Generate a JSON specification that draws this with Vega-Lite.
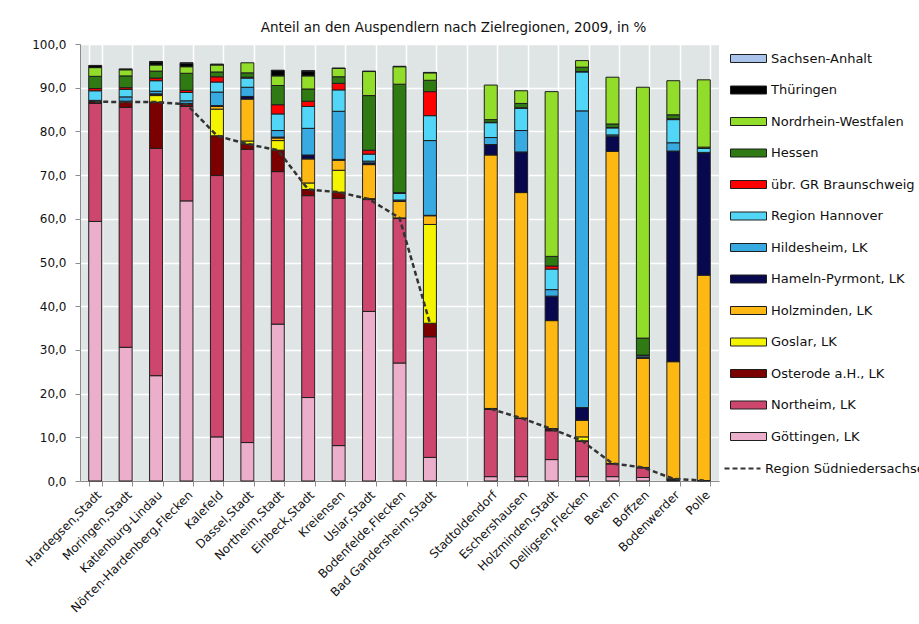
{
  "$schema": "https://vega.github.io/schema/vega-lite/v6.json",
  "background": "white",
  "padding": {"left": 23, "top": 20, "right": 0, "bottom": 5},
  "width": 639,
  "height": 437,
  "title": {
    "text": "Anteil an den Auspendlern nach Zielregionen, 2009, in %",
    "font": "DejaVu Sans",
    "fontSize": 13.5,
    "fontWeight": "normal",
    "color": "#111111",
    "anchor": "middle",
    "dx": 54,
    "offset": 4
  },
  "config": {
    "font": "DejaVu Sans",
    "view": {"fill": "#dfe4e4", "stroke": null},
    "axis": {
      "labelFont": "DejaVu Sans",
      "labelFontSize": 12,
      "labelColor": "#111111",
      "domainColor": "#8c8c8c",
      "tickColor": "#8c8c8c",
      "gridColor": "#ffffff",
      "gridWidth": 1.5,
      "gridOpacity": 1,
      "title": null
    }
  },
  "datasets": {
    "zielregionen": [
      {"ziel": "Göttingen, LK", "stapel": 1},
      {"ziel": "Northeim, LK", "stapel": 2},
      {"ziel": "Osterode a.H., LK", "stapel": 3},
      {"ziel": "Goslar, LK", "stapel": 4},
      {"ziel": "Holzminden, LK", "stapel": 5},
      {"ziel": "Hameln-Pyrmont, LK", "stapel": 6},
      {"ziel": "Hildesheim, LK", "stapel": 7},
      {"ziel": "Region Hannover", "stapel": 8},
      {"ziel": "übr. GR Braunschweig", "stapel": 9},
      {"ziel": "Hessen", "stapel": 10},
      {"ziel": "Nordrhein-Westfalen", "stapel": 11},
      {"ziel": "Thüringen", "stapel": 12},
      {"ziel": "Sachsen-Anhalt", "stapel": 13}
    ],
    "anteile": [
      {"ort": "Hardegsen,Stadt", "ziel": "Göttingen, LK", "anteil": 59.4},
      {"ort": "Hardegsen,Stadt", "ziel": "Northeim, LK", "anteil": 27.0},
      {"ort": "Hardegsen,Stadt", "ziel": "Osterode a.H., LK", "anteil": 0.4},
      {"ort": "Hardegsen,Stadt", "ziel": "Holzminden, LK", "anteil": 0.1},
      {"ort": "Hardegsen,Stadt", "ziel": "Hildesheim, LK", "anteil": 0.2},
      {"ort": "Hardegsen,Stadt", "ziel": "Region Hannover", "anteil": 2.2},
      {"ort": "Hardegsen,Stadt", "ziel": "übr. GR Braunschweig", "anteil": 0.5},
      {"ort": "Hardegsen,Stadt", "ziel": "Hessen", "anteil": 2.8},
      {"ort": "Hardegsen,Stadt", "ziel": "Nordrhein-Westfalen", "anteil": 2.0},
      {"ort": "Hardegsen,Stadt", "ziel": "Thüringen", "anteil": 0.5},

      {"ort": "Moringen,Stadt", "ziel": "Göttingen, LK", "anteil": 30.6},
      {"ort": "Moringen,Stadt", "ziel": "Northeim, LK", "anteil": 54.9},
      {"ort": "Moringen,Stadt", "ziel": "Osterode a.H., LK", "anteil": 1.2},
      {"ort": "Moringen,Stadt", "ziel": "Holzminden, LK", "anteil": 0.2},
      {"ort": "Moringen,Stadt", "ziel": "Hildesheim, LK", "anteil": 1.0},
      {"ort": "Moringen,Stadt", "ziel": "Region Hannover", "anteil": 1.7},
      {"ort": "Moringen,Stadt", "ziel": "übr. GR Braunschweig", "anteil": 0.4},
      {"ort": "Moringen,Stadt", "ziel": "Hessen", "anteil": 2.7},
      {"ort": "Moringen,Stadt", "ziel": "Nordrhein-Westfalen", "anteil": 1.4},
      {"ort": "Moringen,Stadt", "ziel": "Thüringen", "anteil": 0.2},

      {"ort": "Katlenburg-Lindau", "ziel": "Göttingen, LK", "anteil": 24.1},
      {"ort": "Katlenburg-Lindau", "ziel": "Northeim, LK", "anteil": 52.0},
      {"ort": "Katlenburg-Lindau", "ziel": "Osterode a.H., LK", "anteil": 10.6},
      {"ort": "Katlenburg-Lindau", "ziel": "Goslar, LK", "anteil": 1.5},
      {"ort": "Katlenburg-Lindau", "ziel": "Holzminden, LK", "anteil": 0.3},
      {"ort": "Katlenburg-Lindau", "ziel": "Hameln-Pyrmont, LK", "anteil": 0.1},
      {"ort": "Katlenburg-Lindau", "ziel": "Hildesheim, LK", "anteil": 0.6},
      {"ort": "Katlenburg-Lindau", "ziel": "Region Hannover", "anteil": 2.4},
      {"ort": "Katlenburg-Lindau", "ziel": "übr. GR Braunschweig", "anteil": 0.6},
      {"ort": "Katlenburg-Lindau", "ziel": "Hessen", "anteil": 1.6},
      {"ort": "Katlenburg-Lindau", "ziel": "Nordrhein-Westfalen", "anteil": 1.4},
      {"ort": "Katlenburg-Lindau", "ziel": "Thüringen", "anteil": 0.7},
      {"ort": "Katlenburg-Lindau", "ziel": "Sachsen-Anhalt", "anteil": 0.1},

      {"ort": "Nörten-Hardenberg,Flecken", "ziel": "Göttingen, LK", "anteil": 64.1},
      {"ort": "Nörten-Hardenberg,Flecken", "ziel": "Northeim, LK", "anteil": 21.6},
      {"ort": "Nörten-Hardenberg,Flecken", "ziel": "Osterode a.H., LK", "anteil": 0.5},
      {"ort": "Nörten-Hardenberg,Flecken", "ziel": "Holzminden, LK", "anteil": 0.2},
      {"ort": "Nörten-Hardenberg,Flecken", "ziel": "Hildesheim, LK", "anteil": 0.6},
      {"ort": "Nörten-Hardenberg,Flecken", "ziel": "Region Hannover", "anteil": 1.9},
      {"ort": "Nörten-Hardenberg,Flecken", "ziel": "übr. GR Braunschweig", "anteil": 0.5},
      {"ort": "Nörten-Hardenberg,Flecken", "ziel": "Hessen", "anteil": 3.9},
      {"ort": "Nörten-Hardenberg,Flecken", "ziel": "Nordrhein-Westfalen", "anteil": 1.5},
      {"ort": "Nörten-Hardenberg,Flecken", "ziel": "Thüringen", "anteil": 0.8},
      {"ort": "Nörten-Hardenberg,Flecken", "ziel": "Sachsen-Anhalt", "anteil": 0.1},

      {"ort": "Kalefeld", "ziel": "Göttingen, LK", "anteil": 10.1},
      {"ort": "Kalefeld", "ziel": "Northeim, LK", "anteil": 59.8},
      {"ort": "Kalefeld", "ziel": "Osterode a.H., LK", "anteil": 9.1},
      {"ort": "Kalefeld", "ziel": "Goslar, LK", "anteil": 6.1},
      {"ort": "Kalefeld", "ziel": "Holzminden, LK", "anteil": 0.6},
      {"ort": "Kalefeld", "ziel": "Hameln-Pyrmont, LK", "anteil": 0.2},
      {"ort": "Kalefeld", "ziel": "Hildesheim, LK", "anteil": 3.1},
      {"ort": "Kalefeld", "ziel": "Region Hannover", "anteil": 2.3},
      {"ort": "Kalefeld", "ziel": "übr. GR Braunschweig", "anteil": 1.2},
      {"ort": "Kalefeld", "ziel": "Hessen", "anteil": 1.1},
      {"ort": "Kalefeld", "ziel": "Nordrhein-Westfalen", "anteil": 1.6},
      {"ort": "Kalefeld", "ziel": "Thüringen", "anteil": 0.1},
      {"ort": "Kalefeld", "ziel": "Sachsen-Anhalt", "anteil": 0.1},

      {"ort": "Dassel,Stadt", "ziel": "Göttingen, LK", "anteil": 8.8},
      {"ort": "Dassel,Stadt", "ziel": "Northeim, LK", "anteil": 67.1},
      {"ort": "Dassel,Stadt", "ziel": "Osterode a.H., LK", "anteil": 1.2},
      {"ort": "Dassel,Stadt", "ziel": "Goslar, LK", "anteil": 0.7},
      {"ort": "Dassel,Stadt", "ziel": "Holzminden, LK", "anteil": 9.6},
      {"ort": "Dassel,Stadt", "ziel": "Hameln-Pyrmont, LK", "anteil": 0.6},
      {"ort": "Dassel,Stadt", "ziel": "Hildesheim, LK", "anteil": 2.1},
      {"ort": "Dassel,Stadt", "ziel": "Region Hannover", "anteil": 2.1},
      {"ort": "Dassel,Stadt", "ziel": "übr. GR Braunschweig", "anteil": 0.2},
      {"ort": "Dassel,Stadt", "ziel": "Hessen", "anteil": 1.0},
      {"ort": "Dassel,Stadt", "ziel": "Nordrhein-Westfalen", "anteil": 2.3},

      {"ort": "Northeim,Stadt", "ziel": "Göttingen, LK", "anteil": 35.9},
      {"ort": "Northeim,Stadt", "ziel": "Northeim, LK", "anteil": 34.9},
      {"ort": "Northeim,Stadt", "ziel": "Osterode a.H., LK", "anteil": 4.9},
      {"ort": "Northeim,Stadt", "ziel": "Goslar, LK", "anteil": 2.2},
      {"ort": "Northeim,Stadt", "ziel": "Holzminden, LK", "anteil": 0.6},
      {"ort": "Northeim,Stadt", "ziel": "Hameln-Pyrmont, LK", "anteil": 0.2},
      {"ort": "Northeim,Stadt", "ziel": "Hildesheim, LK", "anteil": 1.5},
      {"ort": "Northeim,Stadt", "ziel": "Region Hannover", "anteil": 3.8},
      {"ort": "Northeim,Stadt", "ziel": "übr. GR Braunschweig", "anteil": 2.1},
      {"ort": "Northeim,Stadt", "ziel": "Hessen", "anteil": 4.4},
      {"ort": "Northeim,Stadt", "ziel": "Nordrhein-Westfalen", "anteil": 2.2},
      {"ort": "Northeim,Stadt", "ziel": "Thüringen", "anteil": 1.2},
      {"ort": "Northeim,Stadt", "ziel": "Sachsen-Anhalt", "anteil": 0.1},

      {"ort": "Einbeck,Stadt", "ziel": "Göttingen, LK", "anteil": 19.1},
      {"ort": "Einbeck,Stadt", "ziel": "Northeim, LK", "anteil": 46.2},
      {"ort": "Einbeck,Stadt", "ziel": "Osterode a.H., LK", "anteil": 1.4},
      {"ort": "Einbeck,Stadt", "ziel": "Goslar, LK", "anteil": 1.5},
      {"ort": "Einbeck,Stadt", "ziel": "Holzminden, LK", "anteil": 5.5},
      {"ort": "Einbeck,Stadt", "ziel": "Hameln-Pyrmont, LK", "anteil": 0.9},
      {"ort": "Einbeck,Stadt", "ziel": "Hildesheim, LK", "anteil": 6.1},
      {"ort": "Einbeck,Stadt", "ziel": "Region Hannover", "anteil": 5.0},
      {"ort": "Einbeck,Stadt", "ziel": "übr. GR Braunschweig", "anteil": 1.2},
      {"ort": "Einbeck,Stadt", "ziel": "Hessen", "anteil": 2.8},
      {"ort": "Einbeck,Stadt", "ziel": "Nordrhein-Westfalen", "anteil": 3.0},
      {"ort": "Einbeck,Stadt", "ziel": "Thüringen", "anteil": 1.1},
      {"ort": "Einbeck,Stadt", "ziel": "Sachsen-Anhalt", "anteil": 0.1},

      {"ort": "Kreiensen", "ziel": "Göttingen, LK", "anteil": 8.1},
      {"ort": "Kreiensen", "ziel": "Northeim, LK", "anteil": 56.6},
      {"ort": "Kreiensen", "ziel": "Osterode a.H., LK", "anteil": 1.4},
      {"ort": "Kreiensen", "ziel": "Goslar, LK", "anteil": 5.0},
      {"ort": "Kreiensen", "ziel": "Holzminden, LK", "anteil": 2.3},
      {"ort": "Kreiensen", "ziel": "Hameln-Pyrmont, LK", "anteil": 0.2},
      {"ort": "Kreiensen", "ziel": "Hildesheim, LK", "anteil": 11.0},
      {"ort": "Kreiensen", "ziel": "Region Hannover", "anteil": 4.9},
      {"ort": "Kreiensen", "ziel": "übr. GR Braunschweig", "anteil": 1.5},
      {"ort": "Kreiensen", "ziel": "Hessen", "anteil": 1.5},
      {"ort": "Kreiensen", "ziel": "Nordrhein-Westfalen", "anteil": 1.9},
      {"ort": "Kreiensen", "ziel": "Thüringen", "anteil": 0.1},

      {"ort": "Uslar,Stadt", "ziel": "Göttingen, LK", "anteil": 38.8},
      {"ort": "Uslar,Stadt", "ziel": "Northeim, LK", "anteil": 25.6},
      {"ort": "Uslar,Stadt", "ziel": "Osterode a.H., LK", "anteil": 0.1},
      {"ort": "Uslar,Stadt", "ziel": "Goslar, LK", "anteil": 0.1},
      {"ort": "Uslar,Stadt", "ziel": "Holzminden, LK", "anteil": 7.8},
      {"ort": "Uslar,Stadt", "ziel": "Hameln-Pyrmont, LK", "anteil": 0.4},
      {"ort": "Uslar,Stadt", "ziel": "Hildesheim, LK", "anteil": 0.4},
      {"ort": "Uslar,Stadt", "ziel": "Region Hannover", "anteil": 1.6},
      {"ort": "Uslar,Stadt", "ziel": "übr. GR Braunschweig", "anteil": 0.9},
      {"ort": "Uslar,Stadt", "ziel": "Hessen", "anteil": 12.5},
      {"ort": "Uslar,Stadt", "ziel": "Nordrhein-Westfalen", "anteil": 5.5},
      {"ort": "Uslar,Stadt", "ziel": "Thüringen", "anteil": 0.1},

      {"ort": "Bodenfelde,Flecken", "ziel": "Göttingen, LK", "anteil": 27.0},
      {"ort": "Bodenfelde,Flecken", "ziel": "Northeim, LK", "anteil": 33.1},
      {"ort": "Bodenfelde,Flecken", "ziel": "Osterode a.H., LK", "anteil": 0.1},
      {"ort": "Bodenfelde,Flecken", "ziel": "Holzminden, LK", "anteil": 3.8},
      {"ort": "Bodenfelde,Flecken", "ziel": "Hameln-Pyrmont, LK", "anteil": 0.1},
      {"ort": "Bodenfelde,Flecken", "ziel": "Hildesheim, LK", "anteil": 0.2},
      {"ort": "Bodenfelde,Flecken", "ziel": "Region Hannover", "anteil": 1.5},
      {"ort": "Bodenfelde,Flecken", "ziel": "übr. GR Braunschweig", "anteil": 0.2},
      {"ort": "Bodenfelde,Flecken", "ziel": "Hessen", "anteil": 24.8},
      {"ort": "Bodenfelde,Flecken", "ziel": "Nordrhein-Westfalen", "anteil": 4.0},
      {"ort": "Bodenfelde,Flecken", "ziel": "Thüringen", "anteil": 0.1},

      {"ort": "Bad Gandersheim,Stadt", "ziel": "Göttingen, LK", "anteil": 5.4},
      {"ort": "Bad Gandersheim,Stadt", "ziel": "Northeim, LK", "anteil": 27.6},
      {"ort": "Bad Gandersheim,Stadt", "ziel": "Osterode a.H., LK", "anteil": 3.1},
      {"ort": "Bad Gandersheim,Stadt", "ziel": "Goslar, LK", "anteil": 22.6},
      {"ort": "Bad Gandersheim,Stadt", "ziel": "Holzminden, LK", "anteil": 2.0},
      {"ort": "Bad Gandersheim,Stadt", "ziel": "Hameln-Pyrmont, LK", "anteil": 0.1},
      {"ort": "Bad Gandersheim,Stadt", "ziel": "Hildesheim, LK", "anteil": 17.1},
      {"ort": "Bad Gandersheim,Stadt", "ziel": "Region Hannover", "anteil": 5.7},
      {"ort": "Bad Gandersheim,Stadt", "ziel": "übr. GR Braunschweig", "anteil": 5.5},
      {"ort": "Bad Gandersheim,Stadt", "ziel": "Hessen", "anteil": 2.6},
      {"ort": "Bad Gandersheim,Stadt", "ziel": "Nordrhein-Westfalen", "anteil": 1.7},
      {"ort": "Bad Gandersheim,Stadt", "ziel": "Thüringen", "anteil": 0.1},

      {"ort": "Stadtoldendorf", "ziel": "Göttingen, LK", "anteil": 1.0},
      {"ort": "Stadtoldendorf", "ziel": "Northeim, LK", "anteil": 15.4},
      {"ort": "Stadtoldendorf", "ziel": "Osterode a.H., LK", "anteil": 0.1},
      {"ort": "Stadtoldendorf", "ziel": "Goslar, LK", "anteil": 0.1},
      {"ort": "Stadtoldendorf", "ziel": "Holzminden, LK", "anteil": 58.0},
      {"ort": "Stadtoldendorf", "ziel": "Hameln-Pyrmont, LK", "anteil": 2.4},
      {"ort": "Stadtoldendorf", "ziel": "Hildesheim, LK", "anteil": 1.6},
      {"ort": "Stadtoldendorf", "ziel": "Region Hannover", "anteil": 3.4},
      {"ort": "Stadtoldendorf", "ziel": "übr. GR Braunschweig", "anteil": 0.1},
      {"ort": "Stadtoldendorf", "ziel": "Hessen", "anteil": 0.6},
      {"ort": "Stadtoldendorf", "ziel": "Nordrhein-Westfalen", "anteil": 7.9},

      {"ort": "Eschershausen", "ziel": "Göttingen, LK", "anteil": 1.0},
      {"ort": "Eschershausen", "ziel": "Northeim, LK", "anteil": 13.3},
      {"ort": "Eschershausen", "ziel": "Osterode a.H., LK", "anteil": 0.1},
      {"ort": "Eschershausen", "ziel": "Holzminden, LK", "anteil": 51.6},
      {"ort": "Eschershausen", "ziel": "Hameln-Pyrmont, LK", "anteil": 9.3},
      {"ort": "Eschershausen", "ziel": "Hildesheim, LK", "anteil": 4.9},
      {"ort": "Eschershausen", "ziel": "Region Hannover", "anteil": 5.1},
      {"ort": "Eschershausen", "ziel": "übr. GR Braunschweig", "anteil": 0.1},
      {"ort": "Eschershausen", "ziel": "Hessen", "anteil": 1.0},
      {"ort": "Eschershausen", "ziel": "Nordrhein-Westfalen", "anteil": 2.9},

      {"ort": "Holzminden,Stadt", "ziel": "Göttingen, LK", "anteil": 4.9},
      {"ort": "Holzminden,Stadt", "ziel": "Northeim, LK", "anteil": 6.6},
      {"ort": "Holzminden,Stadt", "ziel": "Osterode a.H., LK", "anteil": 0.4},
      {"ort": "Holzminden,Stadt", "ziel": "Goslar, LK", "anteil": 0.1},
      {"ort": "Holzminden,Stadt", "ziel": "Holzminden, LK", "anteil": 24.7},
      {"ort": "Holzminden,Stadt", "ziel": "Hameln-Pyrmont, LK", "anteil": 5.6},
      {"ort": "Holzminden,Stadt", "ziel": "Hildesheim, LK", "anteil": 1.5},
      {"ort": "Holzminden,Stadt", "ziel": "Region Hannover", "anteil": 4.7},
      {"ort": "Holzminden,Stadt", "ziel": "übr. GR Braunschweig", "anteil": 0.7},
      {"ort": "Holzminden,Stadt", "ziel": "Hessen", "anteil": 2.2},
      {"ort": "Holzminden,Stadt", "ziel": "Nordrhein-Westfalen", "anteil": 37.7},

      {"ort": "Delligsen,Flecken", "ziel": "Göttingen, LK", "anteil": 1.0},
      {"ort": "Delligsen,Flecken", "ziel": "Northeim, LK", "anteil": 8.1},
      {"ort": "Delligsen,Flecken", "ziel": "Osterode a.H., LK", "anteil": 0.1},
      {"ort": "Delligsen,Flecken", "ziel": "Goslar, LK", "anteil": 0.9},
      {"ort": "Delligsen,Flecken", "ziel": "Holzminden, LK", "anteil": 3.8},
      {"ort": "Delligsen,Flecken", "ziel": "Hameln-Pyrmont, LK", "anteil": 2.9},
      {"ort": "Delligsen,Flecken", "ziel": "Hildesheim, LK", "anteil": 67.9},
      {"ort": "Delligsen,Flecken", "ziel": "Region Hannover", "anteil": 8.9},
      {"ort": "Delligsen,Flecken", "ziel": "übr. GR Braunschweig", "anteil": 0.1},
      {"ort": "Delligsen,Flecken", "ziel": "Hessen", "anteil": 1.0},
      {"ort": "Delligsen,Flecken", "ziel": "Nordrhein-Westfalen", "anteil": 1.5},

      {"ort": "Bevern", "ziel": "Göttingen, LK", "anteil": 1.0},
      {"ort": "Bevern", "ziel": "Northeim, LK", "anteil": 2.9},
      {"ort": "Bevern", "ziel": "Osterode a.H., LK", "anteil": 0.1},
      {"ort": "Bevern", "ziel": "Holzminden, LK", "anteil": 71.4},
      {"ort": "Bevern", "ziel": "Hameln-Pyrmont, LK", "anteil": 3.5},
      {"ort": "Bevern", "ziel": "Hildesheim, LK", "anteil": 0.3},
      {"ort": "Bevern", "ziel": "Region Hannover", "anteil": 1.6},
      {"ort": "Bevern", "ziel": "übr. GR Braunschweig", "anteil": 0.1},
      {"ort": "Bevern", "ziel": "Hessen", "anteil": 0.8},
      {"ort": "Bevern", "ziel": "Nordrhein-Westfalen", "anteil": 10.7},

      {"ort": "Boffzen", "ziel": "Göttingen, LK", "anteil": 0.8},
      {"ort": "Boffzen", "ziel": "Northeim, LK", "anteil": 2.2},
      {"ort": "Boffzen", "ziel": "Osterode a.H., LK", "anteil": 0.1},
      {"ort": "Boffzen", "ziel": "Holzminden, LK", "anteil": 25.0},
      {"ort": "Boffzen", "ziel": "Hameln-Pyrmont, LK", "anteil": 0.1},
      {"ort": "Boffzen", "ziel": "Hildesheim, LK", "anteil": 0.2},
      {"ort": "Boffzen", "ziel": "Region Hannover", "anteil": 0.3},
      {"ort": "Boffzen", "ziel": "übr. GR Braunschweig", "anteil": 0.1},
      {"ort": "Boffzen", "ziel": "Hessen", "anteil": 3.9},
      {"ort": "Boffzen", "ziel": "Nordrhein-Westfalen", "anteil": 57.4},

      {"ort": "Bodenwerder", "ziel": "Göttingen, LK", "anteil": 0.1},
      {"ort": "Bodenwerder", "ziel": "Northeim, LK", "anteil": 0.3},
      {"ort": "Bodenwerder", "ziel": "Osterode a.H., LK", "anteil": 0.1},
      {"ort": "Bodenwerder", "ziel": "Holzminden, LK", "anteil": 26.8},
      {"ort": "Bodenwerder", "ziel": "Hameln-Pyrmont, LK", "anteil": 48.2},
      {"ort": "Bodenwerder", "ziel": "Hildesheim, LK", "anteil": 1.9},
      {"ort": "Bodenwerder", "ziel": "Region Hannover", "anteil": 5.3},
      {"ort": "Bodenwerder", "ziel": "übr. GR Braunschweig", "anteil": 0.2},
      {"ort": "Bodenwerder", "ziel": "Hessen", "anteil": 0.9},
      {"ort": "Bodenwerder", "ziel": "Nordrhein-Westfalen", "anteil": 7.8},

      {"ort": "Polle", "ziel": "Northeim, LK", "anteil": 0.1},
      {"ort": "Polle", "ziel": "Holzminden, LK", "anteil": 47.0},
      {"ort": "Polle", "ziel": "Hameln-Pyrmont, LK", "anteil": 28.0},
      {"ort": "Polle", "ziel": "Hildesheim, LK", "anteil": 0.1},
      {"ort": "Polle", "ziel": "Region Hannover", "anteil": 0.9},
      {"ort": "Polle", "ziel": "Hessen", "anteil": 0.3},
      {"ort": "Polle", "ziel": "Nordrhein-Westfalen", "anteil": 15.4}
    ],
    "suedniedersachsen": [
      {"ort": "Hardegsen,Stadt", "gruppe": "Landkreis Northeim", "anteil": 86.8},
      {"ort": "Moringen,Stadt", "gruppe": "Landkreis Northeim", "anteil": 86.7},
      {"ort": "Katlenburg-Lindau", "gruppe": "Landkreis Northeim", "anteil": 86.7},
      {"ort": "Nörten-Hardenberg,Flecken", "gruppe": "Landkreis Northeim", "anteil": 86.2},
      {"ort": "Kalefeld", "gruppe": "Landkreis Northeim", "anteil": 79.0},
      {"ort": "Dassel,Stadt", "gruppe": "Landkreis Northeim", "anteil": 77.1},
      {"ort": "Northeim,Stadt", "gruppe": "Landkreis Northeim", "anteil": 75.7},
      {"ort": "Einbeck,Stadt", "gruppe": "Landkreis Northeim", "anteil": 66.7},
      {"ort": "Kreiensen", "gruppe": "Landkreis Northeim", "anteil": 66.1},
      {"ort": "Uslar,Stadt", "gruppe": "Landkreis Northeim", "anteil": 64.5},
      {"ort": "Bodenfelde,Flecken", "gruppe": "Landkreis Northeim", "anteil": 60.2},
      {"ort": "Bad Gandersheim,Stadt", "gruppe": "Landkreis Northeim", "anteil": 36.1},
      {"ort": "Stadtoldendorf", "gruppe": "Landkreis Holzminden", "anteil": 16.5},
      {"ort": "Eschershausen", "gruppe": "Landkreis Holzminden", "anteil": 14.4},
      {"ort": "Holzminden,Stadt", "gruppe": "Landkreis Holzminden", "anteil": 11.9},
      {"ort": "Delligsen,Flecken", "gruppe": "Landkreis Holzminden", "anteil": 9.2},
      {"ort": "Bevern", "gruppe": "Landkreis Holzminden", "anteil": 4.0},
      {"ort": "Boffzen", "gruppe": "Landkreis Holzminden", "anteil": 3.1},
      {"ort": "Bodenwerder", "gruppe": "Landkreis Holzminden", "anteil": 0.5},
      {"ort": "Polle", "gruppe": "Landkreis Holzminden", "anteil": 0.1}
    ]
  },
  "layer": [
    {
      "data": {"name": "anteile"},
      "transform": [
        {"lookup": "ziel", "from": {"data": {"name": "zielregionen"}, "key": "ziel", "fields": ["stapel"]}}
      ],
      "mark": {"type": "bar", "stroke": "#1e1e1e", "strokeWidth": 1},
      "encoding": {
        "x": {
          "field": "ort",
          "type": "nominal",
          "sort": ["Hardegsen,Stadt", "Moringen,Stadt", "Katlenburg-Lindau", "Nörten-Hardenberg,Flecken", "Kalefeld", "Dassel,Stadt", "Northeim,Stadt", "Einbeck,Stadt", "Kreiensen", "Uslar,Stadt", "Bodenfelde,Flecken", "Bad Gandersheim,Stadt", " ", "Stadtoldendorf", "Eschershausen", "Holzminden,Stadt", "Delligsen,Flecken", "Bevern", "Boffzen", "Bodenwerder", "Polle"],
          "scale": {
            "domain": ["Hardegsen,Stadt", "Moringen,Stadt", "Katlenburg-Lindau", "Nörten-Hardenberg,Flecken", "Kalefeld", "Dassel,Stadt", "Northeim,Stadt", "Einbeck,Stadt", "Kreiensen", "Uslar,Stadt", "Bodenfelde,Flecken", "Bad Gandersheim,Stadt", " ", "Stadtoldendorf", "Eschershausen", "Holzminden,Stadt", "Delligsen,Flecken", "Bevern", "Boffzen", "Bodenwerder", "Polle"],
            "paddingInner": 0.573,
            "paddingOuter": 0.287
          },
          "axis": {
            "labelAngle": -45,
            "labelPadding": 3,
            "tickSize": 5,
            "tickBand": "extent",
            "grid": true,
            "labelLimit": 300
          }
        },
        "y": {
          "field": "anteil",
          "type": "quantitative",
          "stack": "zero",
          "scale": {"domain": [0, 100], "nice": false},
          "axis": {
            "values": [0, 10, 20, 30, 40, 50, 60, 70, 80, 90, 100],
            "labelExpr": "replace(format(datum.value, '.1f'), '.', ',')",
            "tickSize": 5,
            "labelPadding": 9,
            "grid": true
          }
        },
        "order": {"field": "stapel", "type": "quantitative", "sort": "ascending"},
        "color": {
          "field": "ziel",
          "type": "nominal",
          "scale": {
            "domain": ["Sachsen-Anhalt", "Thüringen", "Nordrhein-Westfalen", "Hessen", "übr. GR Braunschweig", "Region Hannover", "Hildesheim, LK", "Hameln-Pyrmont, LK", "Holzminden, LK", "Goslar, LK", "Osterode a.H., LK", "Northeim, LK", "Göttingen, LK"],
            "range": ["#a9c3ea", "#000000", "#92dc2a", "#2f7a12", "#ff0000", "#52d6f7", "#37aae2", "#08084f", "#fdb813", "#f4f400", "#7b0000", "#cd466d", "#ebaecb"]
          },
          "legend": {
            "title": null,
            "orient": "right",
            "offset": 9,
            "padding": 8,
            "symbolSize": 100,
            "symbolType": "M-3.6,-0.8H3.6V0.8H-3.6Z",
            "symbolStrokeColor": "#1e1e1e",
            "symbolStrokeWidth": 1,
            "symbolOpacity": 1,
            "labelOffset": 16,
            "rowPadding": 17.5,
            "labelFont": "DejaVu Sans",
            "labelFontSize": 13,
            "labelColor": "#111111",
            "labelLimit": 300
          }
        }
      }
    },
    {
      "data": {"name": "suedniedersachsen"},
      "mark": {"type": "line", "color": "#333333", "strokeWidth": 2.5},
      "encoding": {
        "x": {
          "field": "ort",
          "type": "nominal",
          "sort": ["Hardegsen,Stadt", "Moringen,Stadt", "Katlenburg-Lindau", "Nörten-Hardenberg,Flecken", "Kalefeld", "Dassel,Stadt", "Northeim,Stadt", "Einbeck,Stadt", "Kreiensen", "Uslar,Stadt", "Bodenfelde,Flecken", "Bad Gandersheim,Stadt", " ", "Stadtoldendorf", "Eschershausen", "Holzminden,Stadt", "Delligsen,Flecken", "Bevern", "Boffzen", "Bodenwerder", "Polle"]
        },
        "y": {"field": "anteil", "type": "quantitative"},
        "strokeDash": {
          "datum": "Region Südniedersachsen",
          "type": "nominal",
          "scale": {"domain": ["Region Südniedersachsen"], "range": [[5, 3]]},
          "legend": {
            "title": null,
            "orient": "right",
            "offset": 15,
            "padding": 2,
            "symbolSize": 100,
            "symbolType": "M-3.6,0H3.6",
            "symbolStrokeColor": "#333333",
            "symbolStrokeWidth": 2,
            "labelOffset": 16,
            "labelFont": "DejaVu Sans",
            "labelFontSize": 13,
            "labelColor": "#111111",
            "labelLimit": 300
          }
        },
        "detail": {"field": "gruppe"}
      }
    }
  ]
}
